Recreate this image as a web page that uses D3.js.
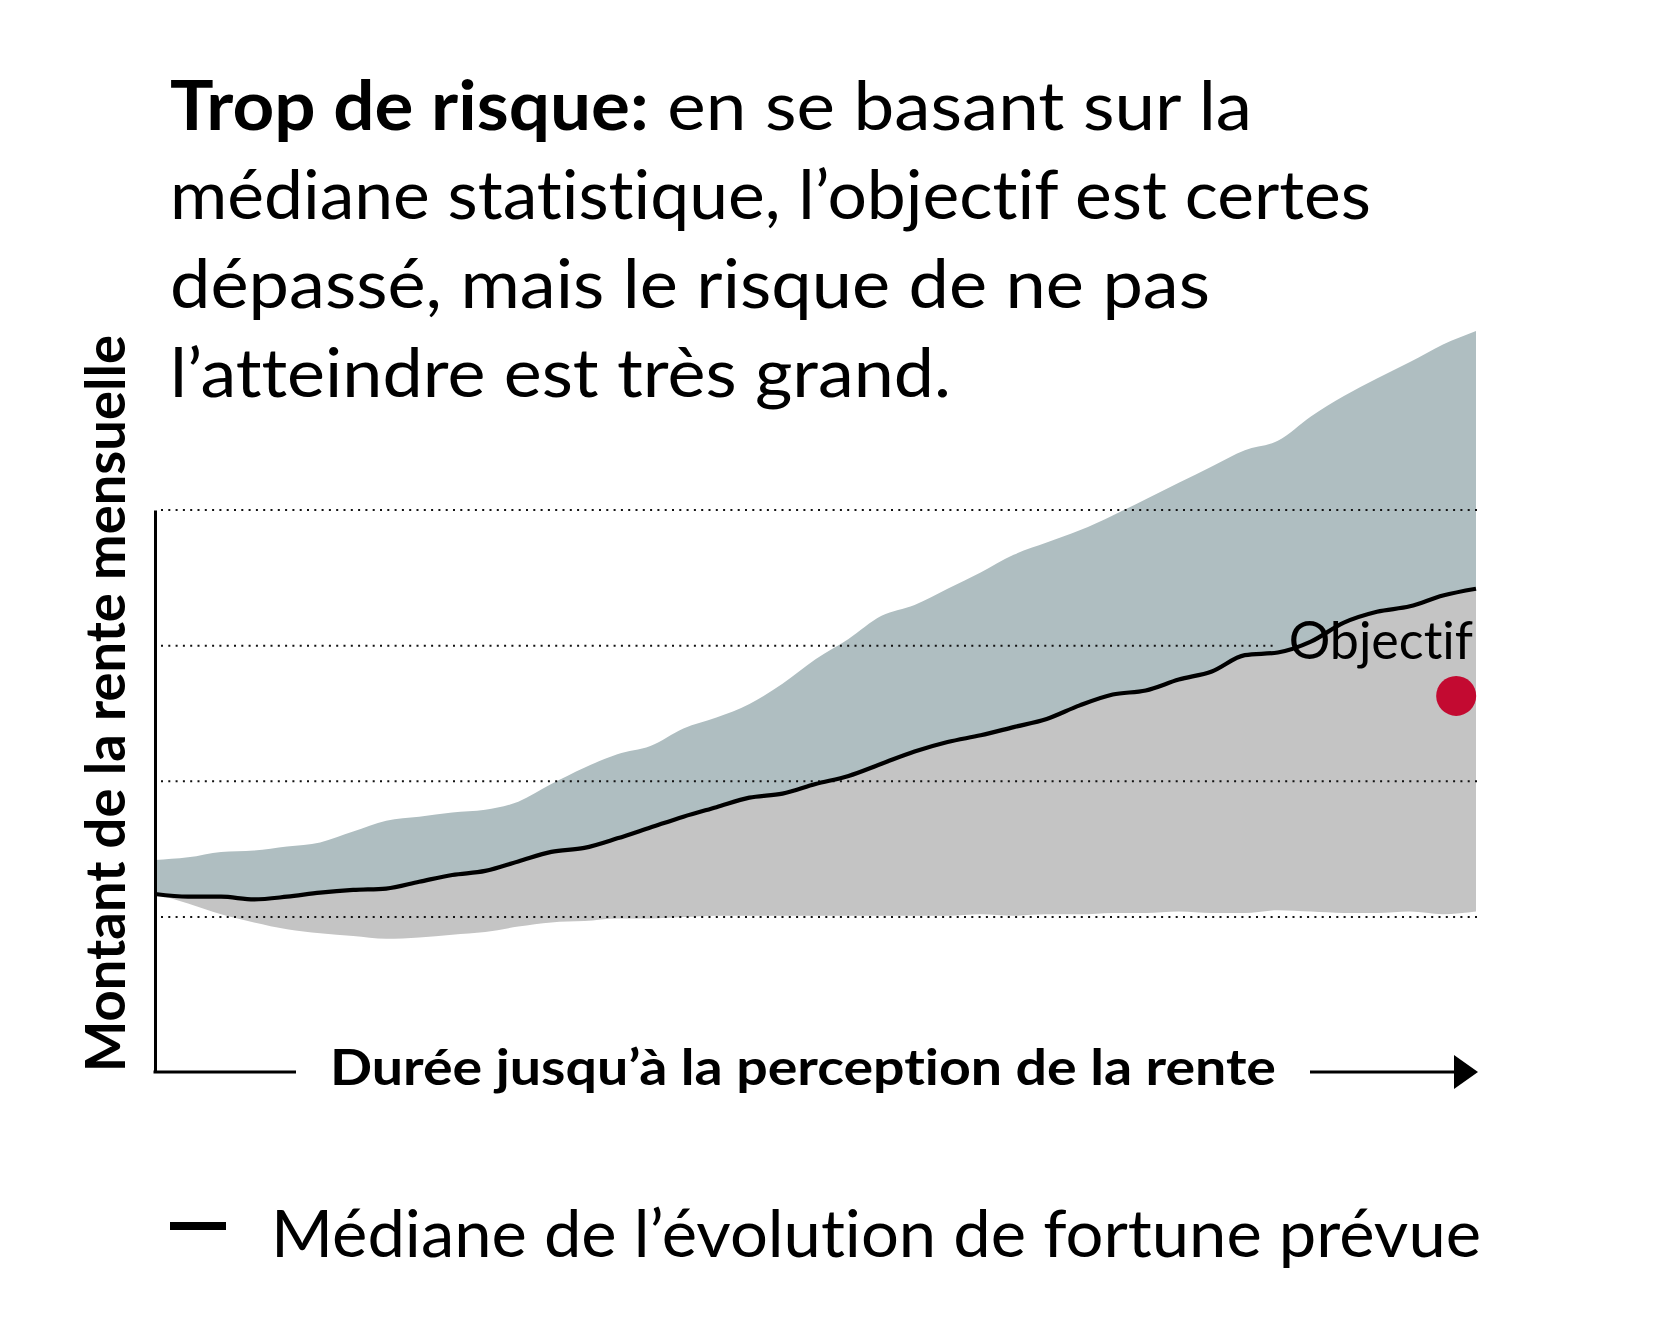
<!DOCTYPE html>
<html>
<head>
<meta charset="utf-8">
<script src="https://cdn.jsdelivr.net/npm/d3@7/dist/d3.min.js"></script>
<style>
  body { margin: 0; background: #fff; }
  svg { display: block; }
  text {
    font-family: Lato, "Open Sans", sans-serif;
    fill: #000;
    font-variant-ligatures: none;
    font-feature-settings: "liga" 0, "clig" 0;
  }
</style>
</head>
<body>
<div id="chart"></div>
<script>
//---------------- data ----------------
var years = [0, 1, 2, 3, 4, 5, 6, 7, 8, 9, 10, 11, 12, 13, 14, 15, 16, 17, 18, 19, 20,
             21, 22, 23, 24, 25, 26, 27, 28, 29, 30, 31, 32, 33, 34, 35, 36, 37, 38, 39, 40];

// upper limit of the forecast range
var upper = [0.42, 0.44, 0.48, 0.49, 0.52, 0.55, 0.63, 0.71, 0.74, 0.77, 0.79,
             0.85, 0.98, 1.10, 1.20, 1.26, 1.39, 1.47, 1.57, 1.72, 1.90,
             2.05, 2.22, 2.30, 2.42, 2.54, 2.67, 2.76, 2.85, 2.96, 3.08,
             3.20, 3.32, 3.44, 3.51, 3.69, 3.84, 3.97, 4.09, 4.22, 4.32];

// median of the forecast
var median = [0.17, 0.15, 0.15, 0.13, 0.15, 0.18, 0.20, 0.21, 0.26, 0.31, 0.34,
              0.41, 0.48, 0.51, 0.58, 0.66, 0.74, 0.81, 0.88, 0.91, 0.98,
              1.04, 1.13, 1.22, 1.29, 1.34, 1.40, 1.46, 1.56, 1.64, 1.67,
              1.75, 1.81, 1.93, 1.95, 2.03, 2.17, 2.25, 2.29, 2.37, 2.42];

// lower limit of the forecast range
var lower = [0.17, 0.10, 0.02, -0.04, -0.09, -0.12, -0.14, -0.16, -0.15, -0.13, -0.11,
             -0.07, -0.04, -0.03, -0.01, -0.01, 0.00, 0.01, 0.01, 0.01, 0.01,
             0.01, 0.01, 0.01, 0.01, 0.02, 0.01, 0.02, 0.02, 0.03, 0.03,
             0.04, 0.03, 0.03, 0.05, 0.04, 0.03, 0.03, 0.04, 0.02, 0.04];

var gridValues = [0, 1, 2, 3];

var goalYear = 39.4, goalValue = 1.63, goalLabel = "Objectif";

var titleBold = "Trop de risque:";
var titleLines = [" en se basant sur la",
                  "médiane statistique, l’objectif est certes",
                  "dépassé, mais le risque de ne pas",
                  "l’atteindre est très grand."];
var xTitle = "Durée jusqu’à la perception de la rente";
var yTitle = "Montant de la rente mensuelle";
var legendLabel = "Médiane de l’évolution de fortune prévue";

//---------------- setup ----------------
var W = 1667, H = 1329;
var svg = d3.select("#chart").append("svg")
    .attr("width", W)
    .attr("height", H);

var x = d3.scaleLinear().domain([0, 40]).range([155, 1476]);
var y = d3.scaleLinear().domain([-1.142, 3]).range([1072, 510]);

var data = years.map(function(d, i) {
  return { year: d, upper: upper[i], median: median[i], lower: lower[i] };
});

//---------------- areas ----------------
var areaTop = d3.area()
    .x(function(d) { return x(d.year); })
    .y0(function(d) { return y(d.median); })
    .y1(function(d) { return y(d.upper); })
    .curve(d3.curveMonotoneX);

var areaBottom = d3.area()
    .x(function(d) { return x(d.year); })
    .y0(function(d) { return y(d.lower); })
    .y1(function(d) { return y(d.median); })
    .curve(d3.curveMonotoneX);

svg.append("path").datum(data).attr("d", areaTop).attr("fill", "#afbec1");
svg.append("path").datum(data).attr("d", areaBottom).attr("fill", "#c4c4c4");

//---------------- goal label (before grid, to know the gap) ----------------
var goalText = svg.append("text")
    .attr("x", 1473)
    .attr("y", 659)
    .attr("text-anchor", "end")
    .attr("font-size", "52px")
    .text(goalLabel);
var goalBox = goalText.node().getBBox();

//---------------- grid ----------------
svg.append("g").selectAll("line")
  .data(gridValues)
  .enter()
  .append("line")
    .attr("x1", x(0) + 6)
    .attr("x2", function(d) { return d === 2 ? goalBox.x - 12 : x(40) + 2; })
    .attr("y1", function(d) { return y(d); })
    .attr("y2", function(d) { return y(d); })
    .attr("stroke", "#111")
    .attr("stroke-width", 2)
    .attr("stroke-dasharray", "2,5.3");

// median line
var line = d3.line()
    .x(function(d) { return x(d.year); })
    .y(function(d) { return y(d.median); })
    .curve(d3.curveMonotoneX);

svg.append("path").datum(data)
    .attr("d", line)
    .attr("fill", "none")
    .attr("stroke", "#000")
    .attr("stroke-width", 4.2);

goalText.raise();

// goal point
svg.append("circle")
    .attr("cx", x(goalYear))
    .attr("cy", y(goalValue))
    .attr("r", 20)
    .attr("fill", "#c30a31");

//---------------- axes ----------------
var yAxis = d3.axisLeft(y).tickValues([]).tickSizeOuter(0);
svg.append("g")
    .attr("transform", "translate(" + x(0) + ",0)")
    .call(yAxis)
    .select(".domain")
    .attr("stroke", "#000")
    .attr("stroke-width", 3);

var xLab = svg.append("text")
    .attr("x", 803)
    .attr("y", 1085)
    .attr("text-anchor", "middle")
    .attr("font-size", "50px")
    .attr("font-weight", "bold")
    .attr("textLength", 946)
    .attr("lengthAdjust", "spacingAndGlyphs")
    .text(xTitle);
var xb = xLab.node().getBBox();

svg.append("line")
    .attr("x1", x(0) - 1.5).attr("x2", xb.x - 34)
    .attr("y1", y.range()[0]).attr("y2", y.range()[0])
    .attr("stroke", "#000").attr("stroke-width", 3);

svg.append("line")
    .attr("x1", xb.x + xb.width + 34).attr("x2", x(40) - 10)
    .attr("y1", y.range()[0]).attr("y2", y.range()[0])
    .attr("stroke", "#000").attr("stroke-width", 3);

svg.append("path")
    .attr("d", "M" + (x(40) + 2) + "," + y.range()[0] +
               "L" + (x(40) - 22) + "," + (y.range()[0] - 17) +
               "L" + (x(40) - 22) + "," + (y.range()[0] + 17) + "Z")
    .attr("fill", "#000");

svg.append("text")
    .attr("transform", "translate(125," + y.range()[0] + ") rotate(-90)")
    .attr("font-size", "55px")
    .attr("font-weight", "bold")
    .attr("textLength", 737)
    .attr("lengthAdjust", "spacingAndGlyphs")
    .text(yTitle);

//---------------- title ----------------
var lineWidths = [1082, 1201, 1040, 781];
var title = svg.append("g").attr("font-size", "68px");
titleLines.forEach(function(t, i) {
  var txt = title.append("text")
      .attr("x", 170)
      .attr("y", 130 + i * 89)
      .attr("textLength", lineWidths[i])
      .attr("lengthAdjust", "spacingAndGlyphs");
  if (i === 0) {
    txt.append("tspan").attr("font-weight", "bold").text(titleBold);
  }
  txt.append("tspan").text(t);
});

//---------------- legend ----------------
svg.append("rect")
    .attr("x", 170).attr("y", 1222)
    .attr("width", 56).attr("height", 8)
    .attr("fill", "#000");

svg.append("text")
    .attr("x", 271)
    .attr("y", 1257)
    .attr("font-size", "66px")
    .attr("textLength", 1210)
    .attr("lengthAdjust", "spacingAndGlyphs")
    .text(legendLabel);
</script>
</body>
</html>
